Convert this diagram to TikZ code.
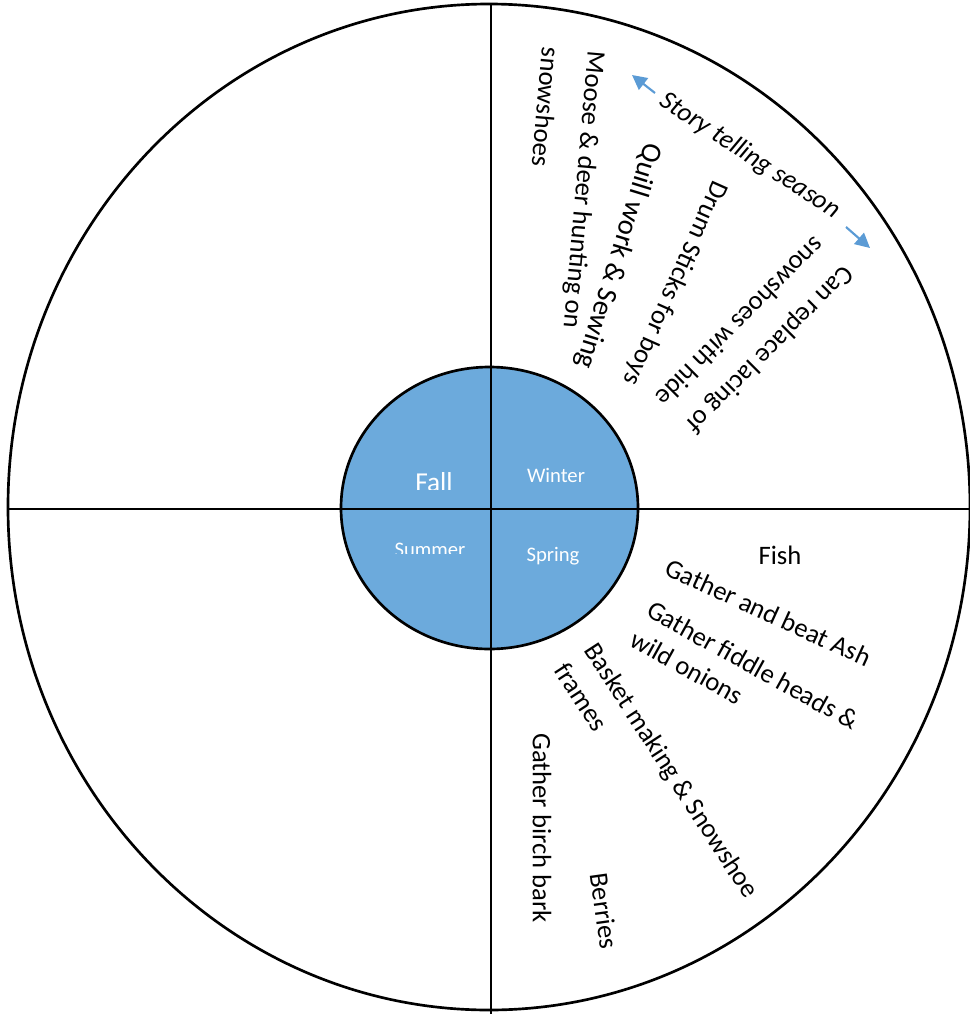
\documentclass[tikz,border=0pt]{standalone}
\usepackage{fontspec}
\setmainfont{Carlito}
\usetikzlibrary{arrows.meta}
\definecolor{seasonblue}{HTML}{6CAADC}
\definecolor{arrowblue}{HTML}{5B9BD5}

\begin{document}
\begin{tikzpicture}[x=0.75pt,y=-0.75pt,line width=2pt,
                    season node/.style={text=white,inner sep=0pt,anchor=base,font=\fontsize{15.5}{18}\selectfont},
                    main node/.style={inner sep=0pt,align=left,font=\fontsize{20}{24}\selectfont}]
  \useasboundingbox (0,0) rectangle (970,1014);

  \draw (489,507) ellipse [x radius=481, y radius=503];
  \fill[seasonblue] (489.5,508) ellipse [x radius=148.5, y radius=141];
  \draw (489.5,508) ellipse [x radius=148.5, y radius=141];
  \draw (491,4) -- (491,1014);
  \draw (7,509) -- (970,509);

  % seasons
  \begin{scope}
    \clip (380,455) rectangle (500,489);
    \node[season node,font=\fontsize{20.5}{24}\selectfont] (fall) at (434,491.5) {Fall};
  \end{scope}
  \node[season node] (winter) at (556,482.5) {Winter};
  \begin{scope}
    \clip (380,530) rectangle (488,553);
    \node[season node] (summer) at (430,556) {Summer};
  \end{scope}
  \node[season node] (spring) at (553,561.5) {Spring};

  % winter
  \node[main node,rotate=-95,font=\fontsize{20}{34.5}\selectfont] (1) at (562,188) {Moose \& deer hunting on\\snowshoes};
  \node[main node,rotate=-33,font=\itshape\fontsize{20}{24}\selectfont] (2) at (750,156) {Story telling season};
  \node[main node,rotate=-107,font=\fontsize{21.5}{26}\selectfont] (3) at (618,256) {Quill work \& Sewing};
  \node[main node,rotate=-114] (4) at (675,283) {Drum Sticks for boys};
  \node[main node,rotate=-135,font=\fontsize{20}{31}\selectfont] (5) at (755,337) {Can replace lacing of\\snowshoes with hide};

  % spring
  \node[main node] (6) at (780,555.5) {Fish};
  \node[main node,rotate=-24.5] (7) at (768.5,612.5) {Gather and beat Ash};
  \node[main node,rotate=-29,font=\fontsize{20}{25.5}\selectfont] (8) at (745,680) {Gather fiddle heads \&\\wild onions};
  \node[main node,rotate=-57,font=\fontsize{20}{27}\selectfont] (9) at (657,780) {Basket making \& Snowshoe\\frames};
  \node[main node,rotate=-90] (10) at (542,828) {Gather birch bark};
  \node[main node,rotate=-82] (11) at (604,911) {Berries};

  \coordinate (s1) at (655,93);
  \coordinate (t1) at (632,75);
  \coordinate (s2) at (846,227);
  \coordinate (t2) at (870,248);

\path[arrowblue,line width=1.6pt,-{Triangle[length=11pt,width=11pt]}]
    (s1) edge (t1)
    (s2) edge (t2);

\end{tikzpicture}
\end{document}
